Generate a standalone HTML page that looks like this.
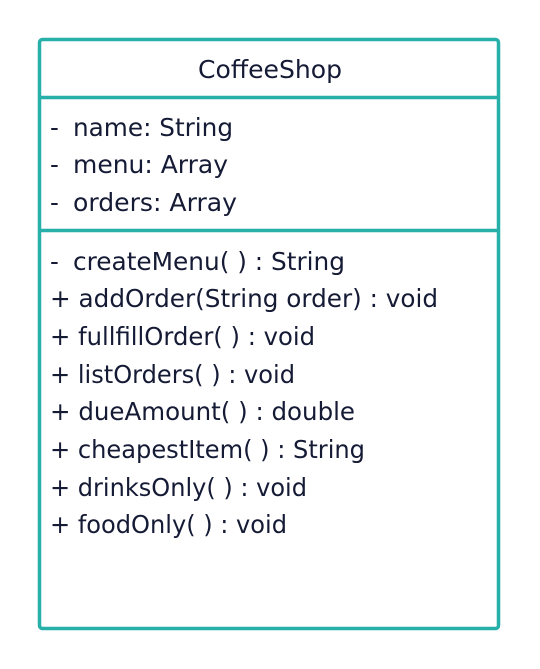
<!DOCTYPE html>
<html><head><style>body{margin:0;background:#fff}svg{display:block}</style></head><body>
<svg width="540" height="669" xmlns="http://www.w3.org/2000/svg" font-family="DejaVu Sans, Liberation Sans, sans-serif" font-size="24.5" fill="#151a35">
<rect x="39.5" y="39.5" width="459" height="589" rx="3" fill="#fff" stroke="#26b0a9" stroke-width="3.5"/>
<line x1="39.5" y1="97.5" x2="498.5" y2="97.5" stroke="#26b0a9" stroke-width="3.5"/>
<line x1="39.5" y1="230.5" x2="498.5" y2="230.5" stroke="#26b0a9" stroke-width="3.5"/>
<text x="198" y="78" textLength="144" lengthAdjust="spacingAndGlyphs">CoffeeShop</text>
<text x="50" y="136">-</text><text x="73" y="136" textLength="160" lengthAdjust="spacingAndGlyphs">name: String</text>
<text x="50" y="173">-</text><text x="73" y="173" textLength="155" lengthAdjust="spacingAndGlyphs">menu: Array</text>
<text x="50" y="211">-</text><text x="73" y="211" textLength="164" lengthAdjust="spacingAndGlyphs">orders: Array</text>
<text x="50" y="270">-</text><text x="73" y="270" textLength="272" lengthAdjust="spacingAndGlyphs">createMenu( ) : String</text>
<text x="50" y="307" textLength="388" lengthAdjust="spacingAndGlyphs">+ addOrder(String order) : void</text>
<text x="50" y="345" textLength="265" lengthAdjust="spacingAndGlyphs">+ fullfillOrder( ) : void</text>
<text x="50" y="383" textLength="245" lengthAdjust="spacingAndGlyphs">+ listOrders( ) : void</text>
<text x="50" y="420" textLength="305" lengthAdjust="spacingAndGlyphs">+ dueAmount( ) : double</text>
<text x="50" y="458" textLength="315" lengthAdjust="spacingAndGlyphs">+ cheapestItem( ) : String</text>
<text x="50" y="496" textLength="257" lengthAdjust="spacingAndGlyphs">+ drinksOnly( ) : void</text>
<text x="50" y="533" textLength="237" lengthAdjust="spacingAndGlyphs">+ foodOnly( ) : void</text>
</svg>
</body></html>
